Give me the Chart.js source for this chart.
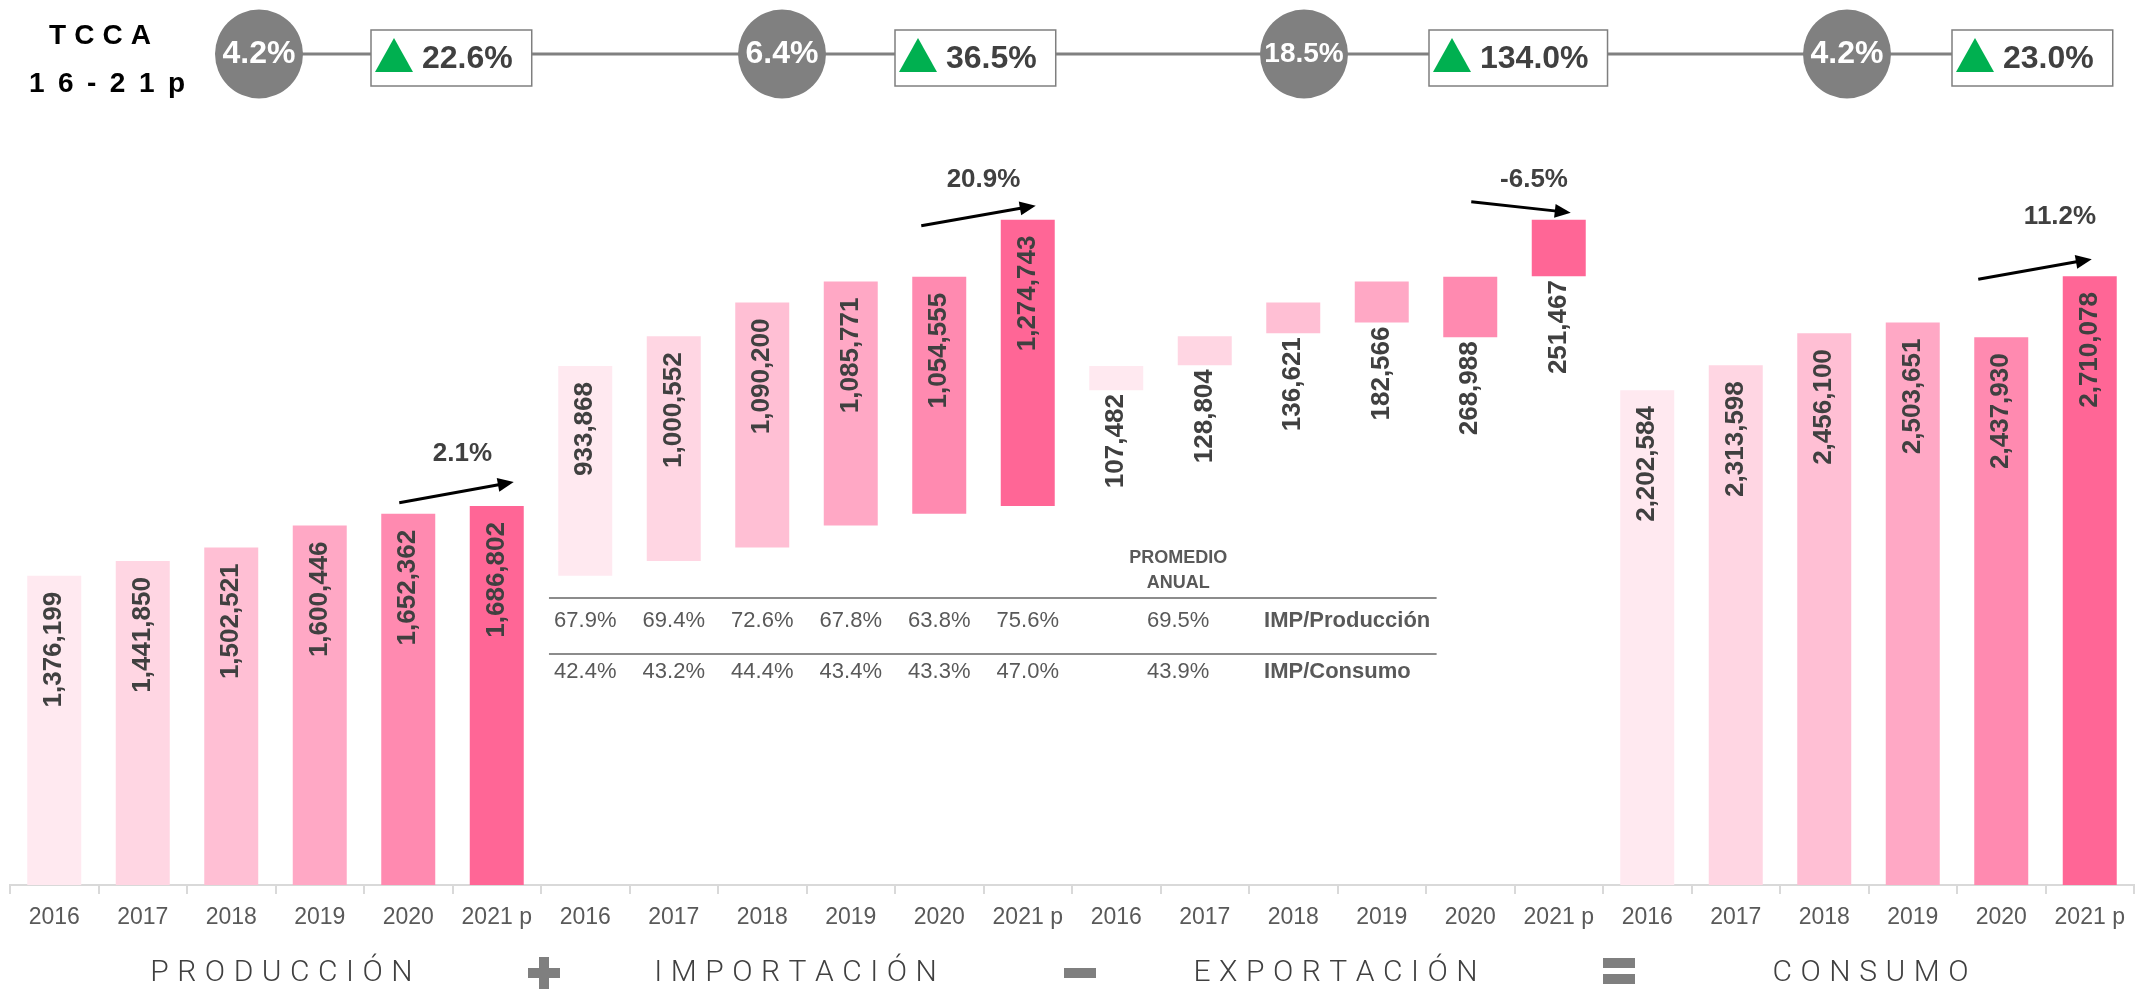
<!DOCTYPE html>
<html>
<head>
<meta charset="utf-8">
<script src="https://cdn.jsdelivr.net/npm/chart.js@4"></script>
<style>
  html, body { margin: 0; padding: 0; background: #fff; overflow: hidden; }
  #wrap { width: 2136px; height: 989px; position: relative; }
</style>
</head>
<body>
<div id="wrap"><canvas id="chart"></canvas></div>
<script>
// datos (toneladas)
const years = ['2016', '2017', '2018', '2019', '2020', '2021 p'];
const groups = ['PRODUCCIÓN', 'IMPORTACIÓN', 'EXPORTACIÓN', 'CONSUMO'];
const produccion = [1376199, 1441850, 1502521, 1600446, 1652362, 1686802];
const importacion = [933868, 1000552, 1090200, 1085771, 1054555, 1274743];
const exportacion = [107482, 128804, 136621, 182566, 268988, 251467];
const consumo = [2202584, 2313598, 2456100, 2503651, 2437930, 2710078];

const tcca = [4.2, 6.4, 18.5, 4.2];
const variacion = [22.6, 36.5, 134.0, 23.0];
const anual = [2.1, 20.9, -6.5, 11.2];

const impProduccion = [67.9, 69.4, 72.6, 67.8, 63.8, 75.6];
const impConsumo = [42.4, 43.2, 44.4, 43.4, 43.3, 47.0];
const promedio = [69.5, 43.9];
const filas = ['IMP/Producción', 'IMP/Consumo'];

const yearColors = ['#ffe9f0', '#ffd6e3', '#ffbfd4', '#ffa8c5', '#ff8ab0', '#ff6696'];

// barras flotantes (cascada)
const labels = groups.flatMap(() => years);
const ranges = [
    ...produccion.map(v => [0, v]),
    ...importacion.map((v, i) => [produccion[i], produccion[i] + v]),
    ...exportacion.map((v, i) => {
        const t = produccion[i] + importacion[i];
        return [t - v, t];
    }),
    ...consumo.map(v => [0, v]),
];
const values = [...produccion, ...importacion, ...exportacion, ...consumo];
const colors = groups.flatMap(() => yearColors);

const FONT = '"Liberation Sans", Arial, sans-serif';
const fmt = v => v.toLocaleString('en-US');
const pct = v => v.toFixed(1) + '%';

function spaced(ctx, text, cx, y, spacing) {
    const chars = [...text];
    const widths = chars.map(c => ctx.measureText(c).width);
    const total = widths.reduce((a, b) => a + b, 0) + spacing * (chars.length - 1);
    let px = cx - total / 2;
    ctx.textAlign = 'left';
    chars.forEach((c, i) => {
        ctx.fillText(c, px, y);
        px += widths[i] + spacing;
    });
}

const barLabels = {
    id: 'barLabels',
    afterDatasetsDraw(chart) {
        const ctx = chart.ctx;
        const meta = chart.getDatasetMeta(0);
        ctx.save();
        ctx.font = 'bold 26px ' + FONT;
        ctx.fillStyle = '#404040';
        ctx.textAlign = 'right';
        ctx.textBaseline = 'middle';
        meta.data.forEach((bar, i) => {
            const top = Math.min(bar.y, bar.base);
            const bottom = Math.max(bar.y, bar.base);
            const isExport = Math.floor(i / 6) === 2;
            const ay = isExport ? bottom + 4 : top + 16;
            ctx.save();
            ctx.translate(bar.x, ay);
            ctx.rotate(-Math.PI / 2);
            ctx.fillText(fmt(values[i]), 0, 0);
            ctx.restore();
        });
        ctx.restore();
    }
};

// flechas de variación anual 2020 -> 2021
const arrowLayout = [
    { from: 4, to: 5, d0: [-9, -11], d1: [17, -24], lbl: [6, -39] },
    { from: 10, to: 11, d0: [-18, -51], d1: [8, -14], lbl: [5, -36] },
    { from: 16, to: 17, d0: [1, -75], d1: [12, -7], lbl: [13, -27] },
    { from: 22, to: 23, d0: [-23, -58], d1: [2, -17], lbl: [25, -52] },
];
// encabezado: centro del círculo respecto al inicio del grupo, caja respecto al círculo
const circleOffset = [249, 241, 232, 244];
const boxOffset = [112, 113, 125, 105];
const groupLabelShift = [6, -11, -2, 2];

function arrow(ctx, x0, y0, x1, y1) {
    const a = Math.atan2(y1 - y0, x1 - x0);
    const hl = 16, hw = 7;
    ctx.beginPath();
    ctx.moveTo(x0, y0);
    ctx.lineTo(x1 - Math.cos(a) * (hl - 2), y1 - Math.sin(a) * (hl - 2));
    ctx.stroke();
    ctx.beginPath();
    ctx.moveTo(x1, y1);
    ctx.lineTo(x1 - Math.cos(a) * hl + Math.sin(a) * hw, y1 - Math.sin(a) * hl - Math.cos(a) * hw);
    ctx.lineTo(x1 - Math.cos(a) * hl - Math.sin(a) * hw, y1 - Math.sin(a) * hl + Math.cos(a) * hw);
    ctx.closePath();
    ctx.fill();
}

const decor = {
    id: 'decor',
    afterDraw(chart) {
        const { ctx, scales: { x } } = chart;
        const meta = chart.getDatasetMeta(0);
        const catW = (x.right - x.left) / 24;
        const grpX = g => x.left + g * 6 * catW;
        const px = i => x.getPixelForValue(i);
        ctx.save();

        // encabezado TCCA
        ctx.fillStyle = '#000';
        ctx.font = 'bold 28px ' + FONT;
        ctx.textBaseline = 'alphabetic';
        spaced(ctx, 'TCCA', 100, 44, 8);
        spaced(ctx, '16-21p', 107, 92, 13.5);

        const circ = groups.map((_, g) => grpX(g) + circleOffset[g]);
        ctx.font = 'bold 32px ' + FONT;
        const boxes = circ.map((cx, g) => {
            const w = ctx.measureText(pct(variacion[g])).width;
            return { left: cx + boxOffset[g], w: 51 + w + 19 };
        });
        ctx.strokeStyle = '#808080';
        ctx.lineWidth = 3;
        ctx.beginPath();
        ctx.moveTo(circ[0], 54);
        ctx.lineTo(boxes[3].left, 54);
        ctx.stroke();

        circ.forEach((cx, g) => {
            ctx.fillStyle = '#808080';
            ctx.beginPath();
            ctx.ellipse(cx, 54, 44, 44.5, 0, 0, Math.PI * 2);
            ctx.fill();
            const t = pct(tcca[g]);
            let fs = 32;
            ctx.font = 'bold ' + fs + 'px ' + FONT;
            while (ctx.measureText(t).width > 80) {
                fs -= 1;
                ctx.font = 'bold ' + fs + 'px ' + FONT;
            }
            ctx.fillStyle = '#fff';
            ctx.textAlign = 'center';
            ctx.textBaseline = 'middle';
            ctx.fillText(t, cx, 54);

            const b = boxes[g];
            ctx.fillStyle = '#fff';
            ctx.fillRect(b.left, 30, b.w, 56);
            ctx.strokeStyle = '#7f7f7f';
            ctx.lineWidth = 1.5;
            ctx.strokeRect(b.left, 30, b.w, 56);
            ctx.fillStyle = '#00b050';
            ctx.beginPath();
            ctx.moveTo(b.left + 4, 72);
            ctx.lineTo(b.left + 42, 72);
            ctx.lineTo(b.left + 23, 38);
            ctx.closePath();
            ctx.fill();
            ctx.fillStyle = '#404040';
            ctx.font = 'bold 32px ' + FONT;
            ctx.textAlign = 'left';
            ctx.fillText(pct(variacion[g]), b.left + 51, 59);
        });

        // flechas
        ctx.strokeStyle = '#000';
        ctx.fillStyle = '#000';
        ctx.lineWidth = 3;
        arrowLayout.forEach((a, g) => {
            const b0 = meta.data[a.from], b1 = meta.data[a.to];
            const x0 = b0.x + a.d0[0], y0 = Math.min(b0.y, b0.base) + a.d0[1];
            const x1 = b1.x + a.d1[0], y1 = Math.min(b1.y, b1.base) + a.d1[1];
            arrow(ctx, x0, y0, x1, y1);
            ctx.save();
            ctx.fillStyle = '#404040';
            ctx.font = 'bold 26px ' + FONT;
            ctx.textAlign = 'center';
            ctx.textBaseline = 'middle';
            ctx.fillText(pct(anual[g]), (x0 + x1) / 2 + a.lbl[0], (y0 + y1) / 2 + a.lbl[1]);
            ctx.restore();
        });

        // tabla IMP
        ctx.strokeStyle = '#8c8c8c';
        ctx.lineWidth = 2;
        [598, 654].forEach(y => {
            ctx.beginPath();
            ctx.moveTo(px(5.59), y);
            ctx.lineTo(px(15.62), y);
            ctx.stroke();
        });
        ctx.fillStyle = '#595959';
        ctx.textBaseline = 'middle';
        ctx.textAlign = 'center';
        ctx.font = 'bold 18px ' + FONT;
        ctx.fillText('PROMEDIO', px(12.7), 558);
        ctx.fillText('ANUAL', px(12.7), 583);
        [[impProduccion, 621], [impConsumo, 672]].forEach(([arr, y], r) => {
            ctx.font = '22px ' + FONT;
            ctx.textAlign = 'center';
            arr.forEach((v, i) => ctx.fillText(pct(v), px(6 + i), y));
            ctx.fillText(pct(promedio[r]), px(12.7), y);
            ctx.font = 'bold 22px ' + FONT;
            ctx.textAlign = 'left';
            ctx.fillText(filas[r], px(13.67), y);
        });

        // grupos y operadores
        ctx.fillStyle = '#404040';
        ctx.font = '300 30px Roboto';
        ctx.textBaseline = 'middle';
        groups.forEach((gname, g) => spaced(ctx, gname, grpX(g) + 3 * catW + groupLabelShift[g], 973, 8.5));

        ctx.fillStyle = '#7f7f7f';
        const opX = [grpX(1) + 3, grpX(2) + 8, grpX(3) + 16];
        ctx.fillRect(opX[0] - 16, 968, 32, 10);
        ctx.fillRect(opX[0] - 5, 957, 10, 32);
        ctx.fillRect(opX[1] - 16, 968, 32, 10);
        ctx.fillRect(opX[2] - 16, 958, 32, 10);
        ctx.fillRect(opX[2] - 16, 974, 32, 10);

        ctx.restore();
    }
};

Chart.defaults.font.family = FONT;

new Chart(document.getElementById('chart'), {
    type: 'bar',
    data: {
        labels,
        datasets: [{
            data: ranges,
            backgroundColor: colors,
            borderWidth: 0,
            barPercentage: 0.61,
            categoryPercentage: 1,
        }],
    },
    options: {
        responsive: true,
        maintainAspectRatio: false,
        animation: false,
        layout: { padding: { top: 211, left: 10, right: 2, bottom: 0 } },
        plugins: {
            legend: { display: false },
            tooltip: { enabled: false },
        },
        scales: {
            x: {
                grid: {
                    display: true,
                    drawOnChartArea: false,
                    drawTicks: true,
                    tickLength: 9,
                    color: '#d9d9d9',
                    lineWidth: 2,
                    offset: true,
                },
                border: { display: true, color: '#d9d9d9', width: 2 },
                ticks: {
                    color: '#595959',
                    font: { size: 23 },
                    padding: 10,
                    autoSkip: false,
                    maxRotation: 0,
                },
                afterFit: s => { s.height = 104; },
            },
            y: {
                display: false,
                min: 0,
                max: 3000000,
            },
        },
    },
    plugins: [barLabels, decor],
});
</script>
</body>
</html>
